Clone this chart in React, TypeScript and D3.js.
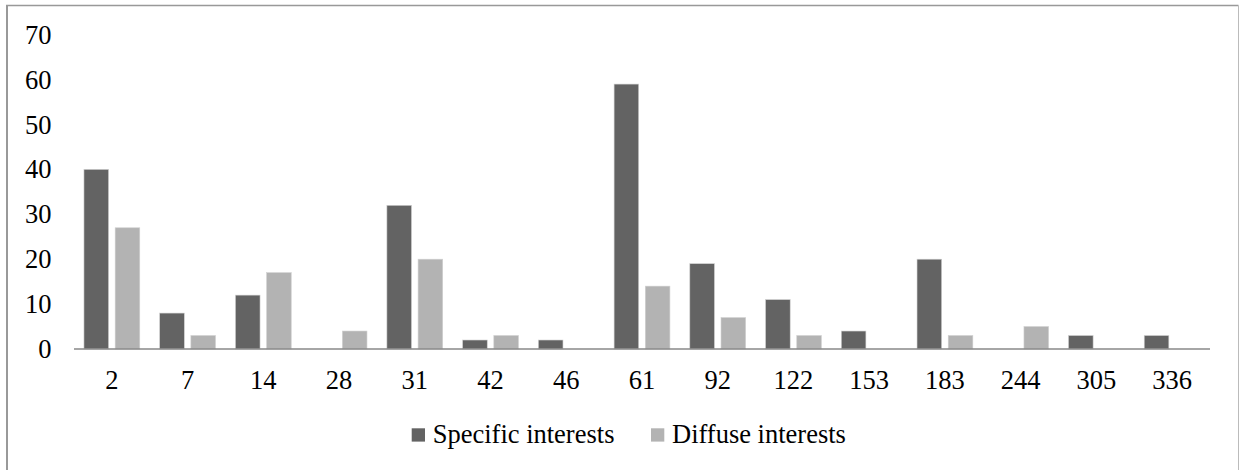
import React from "react";
import * as d3 from "d3";

const categories = ["2", "7", "14", "28", "31", "42", "46", "61", "92", "122", "153", "183", "244", "305", "336"];
const specificInterests = [40, 8, 12, 0, 32, 2, 2, 59, 19, 11, 4, 20, 0, 3, 3];
const diffuseInterests = [27, 3, 17, 4, 20, 3, 0, 14, 7, 3, 0, 3, 5, 0, 0];
const yTicks = [0, 10, 20, 30, 40, 50, 60, 70];
const seriesNames = ["Specific interests", "Diffuse interests"];
const seriesColors = ["#636363", "#b3b3b3"];

const W = 1239;
const H = 470;
const FONT = "Liberation Serif, Times New Roman, Times, serif";
const FS = 26.5;

export default function App() {
  const x0 = 74;
  const x1 = 1210;
  const yZero = 349;
  const yTop = 34.7;

  const x = d3.scaleBand<string>().domain(categories).range([x0, x1]).paddingInner(0).paddingOuter(0);
  const y = d3.scaleLinear().domain([0, 70]).range([yZero, yTop]);

  const bw = x.bandwidth();
  const barW = bw * 0.325;
  const gap = bw * 0.087;
  const series = [specificInterests, diffuseInterests];
  const textStyle = { fontFamily: FONT };

  const legendX = [411.7, 651];

  return (
    <svg width={W} height={H} style={{ position: "absolute", left: 0, top: 0, background: "#fff" }}>
      <rect x={0} y={0} width={W} height={H} fill="#fff" />
      {/* frame */}
      <line x1={7} y1={5.5} x2={7} y2={H + 5} stroke="#999" strokeWidth={2} />
      <line x1={6} y1={5.5} x2={1238.5} y2={5.5} stroke="#999" strokeWidth={1.5} />
      <line x1={1238.5} y1={5.5} x2={1238.5} y2={H + 5} stroke="#bbb" strokeWidth={1} />

      {/* bars */}
      {series.map((vals, si) =>
        vals.map((v, i) => {
          const c = categories[i];
          const center = (x(c) as number) + bw / 2;
          const left = si === 0 ? center - gap / 2 - barW : center + gap / 2;
          const yt = y(v);
          const h = yZero - yt;
          if (h <= 0) return null;
          return (
            <rect
              key={`${si}-${i}`}
              x={left}
              y={yt}
              width={barW}
              height={h}
              fill={seriesColors[si]}
              stroke="#d0d0d0"
              strokeWidth={0.6}
            />
          );
        })
      )}

      {/* x axis line */}
      <line x1={x0} y1={yZero} x2={x1} y2={yZero} stroke="#888" strokeWidth={1.5} />

      {/* y tick labels */}
      {yTicks.map((t) => (
        <text
          key={t}
          x={51.5}
          y={y(t)}
          dy="0.34em"
          textAnchor="end"
          style={textStyle}
          fontSize={FS}
          fill="#000"
        >
          {t}
        </text>
      ))}

      {/* x tick labels */}
      {categories.map((c) => (
        <text
          key={c}
          x={(x(c) as number) + bw / 2}
          y={389.3}
          textAnchor="middle"
          style={textStyle}
          fontSize={FS}
          fill="#000"
        >
          {c}
        </text>
      ))}

      {/* legend */}
      <g>
        {seriesNames.map((name, i) => (
          <g key={name}>
            <rect x={legendX[i]} y={428.3} width={13.3} height={13.3} fill={seriesColors[i]} />
            <text x={legendX[i] + 21} y={443.3} style={textStyle} fontSize={FS} fill="#000">
              {name}
            </text>
          </g>
        ))}
      </g>
    </svg>
  );
}
